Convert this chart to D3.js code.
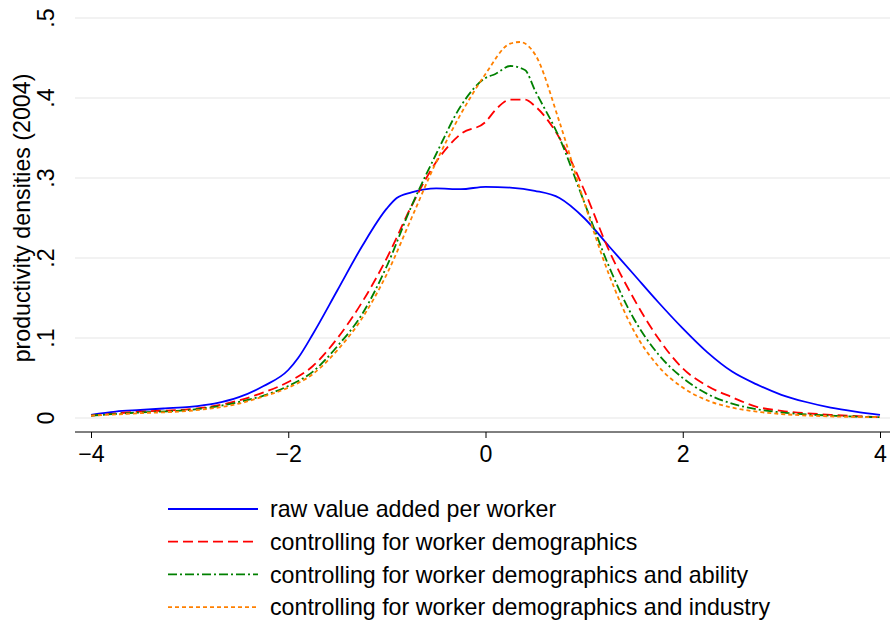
<!DOCTYPE html>
<html><head><meta charset="utf-8">
<script src="https://cdn.jsdelivr.net/npm/d3@7"></script>
<style>body{margin:0;background:#fff;font-family:"Liberation Sans",Arial,sans-serif}</style>
</head><body>
<script>
// density curves: [x, density]
const raw = [[-4,.004],[-3.75,.008],[-3.5,.010],[-3.25,.012],[-3,.014],[-2.75,.018],[-2.5,.026],[-2.25,.04],[-2,.06],[-1.9,.075],[-1.75,.105],[-1.5,.16],[-1.25,.215],[-1,.262],[-.9,.275],[-.75,.282],[-.5,.287],[-.25,.286],[0,.289],[.25,.288],[.5,.284],[.75,.275],[1,.25],[1.25,.215],[1.5,.18],[1.75,.145],[2,.112],[2.25,.082],[2.5,.058],[2.75,.042],[3,.029],[3.25,.02],[3.5,.013],[3.75,.008],[4,.004]];
const demo = [[-4,.003],[-3.5,.008],[-3,.011],[-2.75,.015],[-2.5,.022],[-2.25,.032],[-2,.045],[-1.75,.065],[-1.5,.1],[-1.25,.145],[-1,.2],[-.75,.265],[-.5,.32],[-.25,.355],[0,.37],[.1,.385],[.25,.398],[.4,.398],[.5,.39],[.75,.35],[1,.285],[1.25,.21],[1.5,.15],[1.75,.1],[2,.062],[2.25,.04],[2.5,.026],[2.75,.014],[3,.009],[3.5,.004],[4,.001]];
const ability = [[-4,.003],[-3.5,.007],[-3,.01],[-2.5,.02],[-2.25,.028],[-2,.04],[-1.75,.058],[-1.5,.09],[-1.25,.13],[-1,.19],[-.75,.265],[-.5,.33],[-.25,.39],[0,.425],[.1,.43],[.25,.44],[.4,.435],[.5,.41],[.75,.35],[1,.27],[1.25,.19],[1.5,.125],[1.75,.08],[2,.05],[2.25,.03],[2.5,.018],[2.75,.011],[3,.007],[3.5,.003],[4,.001]];
const industry = [[-4,.003],[-3.5,.006],[-3,.009],[-2.5,.018],[-2.25,.027],[-2,.038],[-1.75,.055],[-1.5,.085],[-1.25,.125],[-1,.18],[-.75,.25],[-.5,.32],[-.25,.38],[0,.43],[.25,.468],[.35,.47],[.5,.455],[.75,.37],[1,.27],[1.25,.18],[1.5,.11],[1.75,.065],[2,.038],[2.25,.022],[2.5,.013],[2.75,.008],[3,.005],[3.5,.002],[4,.001]];
const xTicks = [-4,-2,0,2,4];
const yTicks = [0,.1,.2,.3,.4,.5];
const yLabels = ["0",".1",".2",".3",".4",".5"];
const series = [
  {name:"raw value added per worker", data:raw, color:"#0000ff", dash:null},
  {name:"controlling for worker demographics", data:demo, color:"#ff0000", dash:"10,5"},
  {name:"controlling for worker demographics and ability", data:ability, color:"#008000", dash:"9,3,2,3"},
  {name:"controlling for worker demographics and industry", data:industry, color:"#ff8000", dash:"4,3"}
];

const w = 891, h = 621, fs = 23.2;
const x = d3.scaleLinear().domain([-4,4]).range([91,880]);
const y = d3.scaleLinear().domain([0,.5]).range([418,18]);
const svg = d3.select("body").append("svg").attr("width",w).attr("height",h);

svg.selectAll("line.grid").data(yTicks).enter().append("line")
  .attr("x1",75).attr("x2",890).attr("y1",d=>y(d)).attr("y2",d=>y(d))
  .attr("stroke","#e6e6e6").attr("stroke-width",1.2);

const xa = svg.append("g").attr("transform","translate(0,432)")
  .call(d3.axisBottom(x).tickValues(xTicks).tickSize(6).tickFormat(d=>d<0?"\u2212"+(-d):d));
xa.select(".domain").attr("d","M75,0H890").attr("stroke","#000");
xa.selectAll("text").attr("font-size",fs).attr("font-family","Liberation Sans, Arial").attr("dy","0.9em");

svg.selectAll("text.yl").data(yTicks).enter().append("text")
  .attr("transform",(d,i)=>`translate(54,${y(d)}) rotate(-90)`)
  .attr("text-anchor","middle").attr("font-size",fs).text((d,i)=>yLabels[i]);
svg.append("text").attr("transform","translate(30,218) rotate(-90)")
  .attr("text-anchor","middle").attr("font-size",fs).text("productivity densities (2004)");

const line = d3.line().x(d=>x(d[0])).y(d=>y(d[1])).curve(d3.curveMonotoneX);
series.forEach(s=>{
  svg.append("path").attr("d",line(s.data)).attr("fill","none")
    .attr("stroke",s.color).attr("stroke-width",1.8).attr("stroke-dasharray",s.dash);
});

const lg = svg.selectAll("g.lg").data(series).enter().append("g")
  .attr("transform",(d,i)=>`translate(0,${509+i*32.7})`);
lg.append("line").attr("x1",168).attr("x2",258).attr("stroke",d=>d.color)
  .attr("stroke-width",1.8).attr("stroke-dasharray",d=>d.dash);
lg.append("text").attr("x",270).attr("dy","0.35em").attr("font-size",fs).text(d=>d.name);
</script>
</body></html>
